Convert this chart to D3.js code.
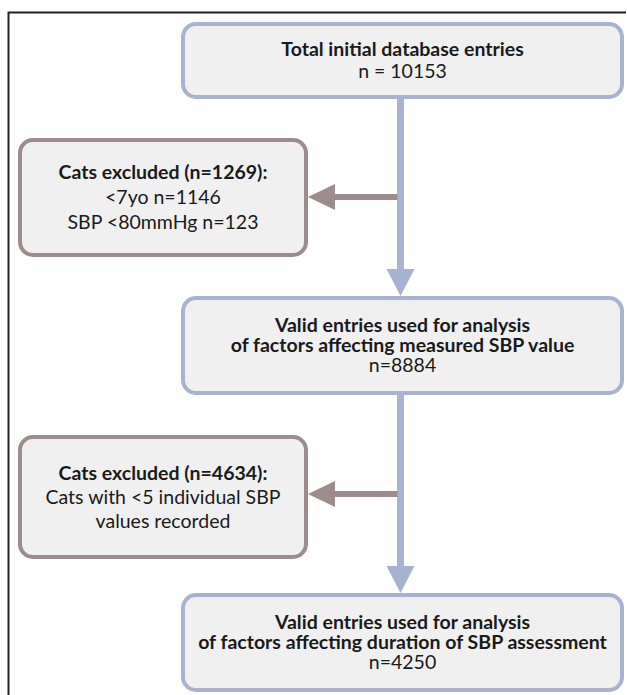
<!DOCTYPE html>
<html>
<head>
<meta charset="utf-8">
<script src="https://cdn.jsdelivr.net/npm/d3@7"></script>
<style>
  body { margin: 0; background: #fff; }
  svg { display: block; }
</style>
</head>
<body>
<div class="flow"></div>
<script>
var width = 627,
    height = 695;

// main flow boxes
let mainTitles = [
    ["Total initial database entries"],
    ["Valid entries used for analysis", "of factors affecting measured SBP value"],
    ["Valid entries used for analysis", "of factors affecting duration of SBP assessment"]
];
let mainCounts = ["n = 10153", "n=8884", "n=4250"];

// exclusion boxes
let exclTitles = ["Cats excluded (n=1269):", "Cats excluded (n=4634):"];
let exclDetails = [
    ["<7yo n=1146", "SBP <80mmHg n=123"],
    ["Cats with <5 individual SBP", "values recorded"]
];

let blue = "#a7b3d1",
    brown = "#9e8b8b",
    fill = "#f0f0f0";

// layout
let mainBox = [
    {x0: 183, x1: 622, y0: 24, y1: 97, lh: 22},
    {x0: 183, x1: 622, y0: 298, y1: 393, lh: 20},
    {x0: 183, x1: 622, y0: 595, y1: 690, lh: 20}
];
let exclBox = [
    {x0: 20, x1: 306, y0: 140, y1: 255, lh: 25},
    {x0: 20, x1: 306, y0: 437, y1: 557, lh: 24}
];
let spineX = 400.5;
let exclArrowY = [197, 494];

let svg = d3.select(".flow")
    .append("svg")
    .attr("width", width)
    .attr("height", height);

// frame
svg.append("path")
    .attr("d", "M8.5," + height + "V12.5H626")
    .attr("fill", "none")
    .attr("stroke", "#222")
    .attr("stroke-width", 2);

// vertical connectors with arrowheads
for (let i = 0; i < mainBox.length - 1; i++) {
    let top = mainBox[i].y1,
        tip = mainBox[i + 1].y0 - 2;
    svg.append("line")
        .attr("x1", spineX).attr("x2", spineX)
        .attr("y1", top).attr("y2", tip - 24)
        .attr("stroke", blue)
        .attr("stroke-width", 7);
    svg.append("path")
        .attr("d", `M${spineX - 14},${tip - 27}L${spineX + 14},${tip - 27}L${spineX},${tip}Z`)
        .attr("fill", blue);
}

// horizontal arrows to exclusion boxes
exclArrowY.forEach(function(y, i){
    let tip = exclBox[i].x1 + 2;
    svg.append("line")
        .attr("x1", spineX - 3).attr("x2", tip + 24)
        .attr("y1", y).attr("y2", y)
        .attr("stroke", brown)
        .attr("stroke-width", 6);
    svg.append("path")
        .attr("d", `M${tip},${y}L${tip + 27},${y - 13}L${tip + 27},${y + 13}Z`)
        .attr("fill", brown);
});

function drawBox(b, color){
    svg.append("rect")
        .attr("x", b.x0).attr("y", b.y0)
        .attr("width", b.x1 - b.x0)
        .attr("height", b.y1 - b.y0)
        .attr("rx", 13).attr("ry", 13)
        .attr("fill", fill)
        .attr("stroke", color)
        .attr("stroke-width", 4);
}

function drawLines(b, lines){
    let cx = (b.x0 + b.x1) / 2,
        cy = (b.y0 + b.y1) / 2;
    let start = cy - (lines.length - 1) * b.lh / 2;
    svg.append("g")
        .selectAll("text")
        .data(lines)
        .join("text")
        .attr("x", cx)
        .attr("y", (d, i) => start + i * b.lh)
        .attr("dy", "0.35em")
        .style("text-anchor", "middle")
        .style("font-family", "Lato, sans-serif")
        .style("font-size", "19.5px")
        .style("font-weight", d => d.bold ? "bold" : "normal")
        .style("fill", "#1a1a1a")
        .text(d => d.text);
}

mainBox.forEach(function(b, i){
    drawBox(b, blue);
    let lines = mainTitles[i].map(t => ({text: t, bold: true}))
        .concat([{text: mainCounts[i], bold: false}]);
    drawLines(b, lines);
});

exclBox.forEach(function(b, i){
    drawBox(b, brown);
    let lines = [{text: exclTitles[i], bold: true}]
        .concat(exclDetails[i].map(t => ({text: t, bold: false})));
    drawLines(b, lines);
});
</script>
</body>
</html>
